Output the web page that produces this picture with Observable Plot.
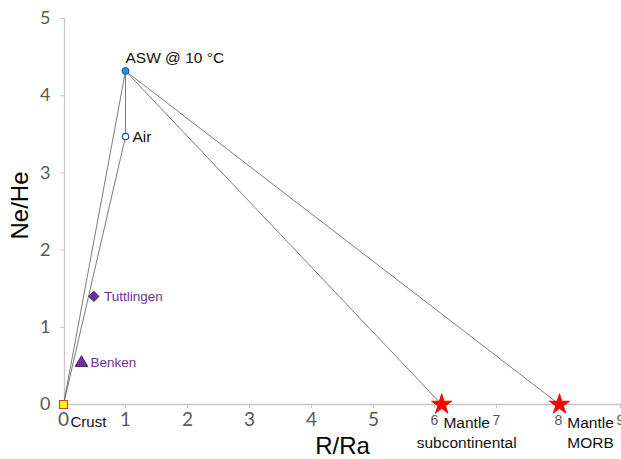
<!DOCTYPE html>
<html>
<head>
<meta charset="utf-8">
<script src="https://cdn.jsdelivr.net/npm/d3@7"></script>
<script src="https://cdn.jsdelivr.net/npm/@observablehq/plot@0.6"></script>
<style>
  html, body { margin: 0; padding: 0; background: #fff; }
  #chart svg { display: block; }
</style>
</head>
<body>
<div id="chart"></div>
<script>
// ---- data ----
const names = ["Crust", "Air", "ASW @ 10 °C", "Mantle subcontinental", "Mantle MORB", "Tuttlingen", "Benken"];
const rRa   = [0, 1.0, 1.0, 6.1, 8.0, 0.49, 0.29];
const neHe  = [0, 3.47, 4.32, 0, 0, 1.40, 0.54];
const edgeFrom = ["Crust", "Crust", "Air", "ASW @ 10 °C", "ASW @ 10 °C"];
const edgeTo   = ["ASW @ 10 °C", "Air", "ASW @ 10 °C", "Mantle subcontinental", "Mantle MORB"];
const xTicksLarge = [0, 1, 2, 3, 4, 5];
const xTicksSmall = [6, 7, 8, 9];
const yTicks = [0, 1, 2, 3, 4, 5];

const pts = names.map((n, i) => ({name: n, x: rRa[i], y: neHe[i]}));
const P = Object.fromEntries(pts.map(p => [p.name, p]));
const edges = edgeFrom.map((f, i) => ({x1: P[f].x, y1: P[f].y, x2: P[edgeTo[i]].x, y2: P[edgeTo[i]].y}));
const one = n => [P[n]];

const axisGray = "#c6c6c6";
const tickGray = "#595959";
const purple = "#7030a0";
const labelFont = "Liberation Sans, Arial, sans-serif";

const chart = Plot.plot({
  width: 621,
  height: 459,
  marginLeft: 63,
  marginRight: 0,
  marginTop: 18,
  marginBottom: 55,
  x: {domain: [0, 9]},
  y: {domain: [0, 5]},
  style: {fontFamily: "Lato, sans-serif", background: "#fff", overflow: "visible"},
  marks: [
    Plot.ruleX([0], {stroke: axisGray, strokeWidth: 1.3, dx: 1}),
    Plot.ruleY([0], {stroke: axisGray, strokeWidth: 1.3}),
    Plot.axisY({ticks: yTicks, tickFormat: d3.format("d"), tickSize: 4, tickPadding: 10, fontSize: 18, stroke: axisGray, color: tickGray, label: null, fontFamily: "Lato, sans-serif", dx: 1}),
    Plot.axisX({ticks: xTicksLarge, tickFormat: d3.format("d"), tickSize: 4, tickPadding: 4, fontSize: 19, stroke: axisGray, color: tickGray, label: null, fontFamily: "Lato, sans-serif"}),
    Plot.axisX({ticks: xTicksSmall, tickFormat: d3.format("d"), tickSize: 4, tickPadding: 7, fontSize: 14, stroke: axisGray, color: tickGray, label: null, fontFamily: labelFont, dx: -1}),
    Plot.text(["Ne/He"], {frameAnchor: "left", textAnchor: "middle", dx: -43, dy: -6, rotate: -90, fontSize: 24, fill: "#000", fontFamily: labelFont}),
    Plot.text(["R/Ra"], {frameAnchor: "bottom", textAnchor: "middle", dy: 49, dx: 0, fontSize: 24, fill: "#000", fontFamily: labelFont}),
    Plot.link(edges, {x1: "x1", y1: "y1", x2: "x2", y2: "y2", stroke: "#5a5a5a", strokeWidth: 0.8}),
    Plot.dot(one("Crust"), {x: "x", y: "y", symbol: "square", r: 4.5, fill: "#ffff00", stroke: "#e03c3c", strokeWidth: 1.2}),
    Plot.dot(one("ASW @ 10 °C"), {x: "x", y: "y", symbol: "circle", r: 3.5, fill: "#1d96e6", stroke: "#1f4e99", strokeWidth: 1}),
    Plot.dot(one("Air"), {x: "x", y: "y", symbol: "circle", r: 3.2, fill: "#ffffff", stroke: "#1f4e99", strokeWidth: 1.2}),
    Plot.dot(one("Tuttlingen"), {x: "x", y: "y", symbol: "diamond2", r: 4.6, fill: purple, stroke: "#3b1f63", strokeWidth: 1}),
    Plot.dot(one("Benken"), {x: "x", y: "y", symbol: "triangle", r: 4.6, fill: purple, stroke: "#3b1f63", strokeWidth: 1}),
    Plot.dot([P["Mantle subcontinental"], P["Mantle MORB"]], {x: "x", y: "y", symbol: "star", r: 6.4, fill: "#ff0000", stroke: "#e00000", strokeWidth: 0.8}),
    Plot.text(one("ASW @ 10 °C"), {x: "x", y: "y", text: "name", textAnchor: "start", dx: 0, dy: -13, fontSize: 15.5, fill: "#111", fontFamily: labelFont}),
    Plot.text(one("Air"), {x: "x", y: "y", text: "name", textAnchor: "start", dx: 7, dy: 0, fontSize: 15.5, fill: "#111", fontFamily: labelFont}),
    Plot.text(one("Tuttlingen"), {x: "x", y: "y", text: "name", textAnchor: "start", dx: 10, dy: 0, fontSize: 13.5, fill: purple, fontFamily: labelFont}),
    Plot.text(one("Benken"), {x: "x", y: "y", text: "name", textAnchor: "start", dx: 9, dy: 0, fontSize: 13.5, fill: purple, fontFamily: labelFont}),
    Plot.text(one("Crust"), {x: "x", y: "y", text: "name", textAnchor: "start", dx: 7, dy: 18, fontSize: 15, fill: "#111", fontFamily: labelFont}),
    Plot.text(one("Mantle subcontinental"), {x: "x", y: "y", text: d => "Mantle\nsubcontinental", textAnchor: "middle", lineAnchor: "top", lineHeight: 1.25, dx: 25, dy: 10, fontSize: 15.5, fill: "#111", fontFamily: labelFont}),
    Plot.text(one("Mantle MORB"), {x: "x", y: "y", text: d => "Mantle\nMORB", textAnchor: "middle", lineAnchor: "top", lineHeight: 1.25, dx: 31, dy: 10, fontSize: 15.5, fill: "#111", fontFamily: labelFont})
  ]
});
document.getElementById("chart").appendChild(chart);
</script>
</body>
</html>
